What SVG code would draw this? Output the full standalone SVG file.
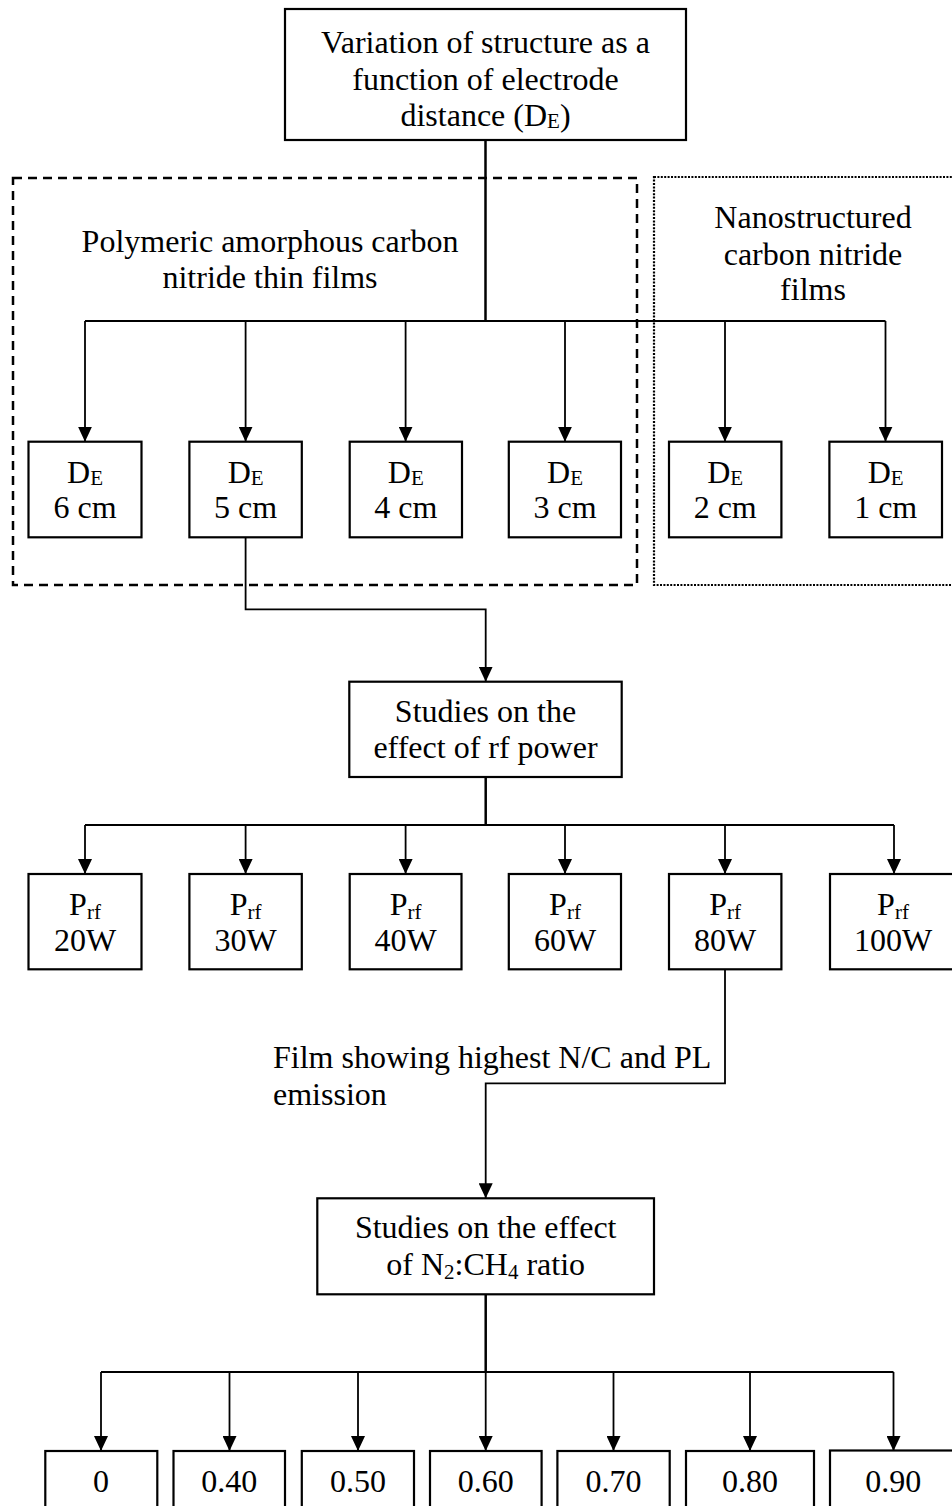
<svg xmlns="http://www.w3.org/2000/svg" width="952" height="1506" viewBox="0 0 952 1506">
<style>
text{font-family:"Liberation Serif","Times New Roman",serif;font-size:32px;fill:#000}
.c{text-anchor:middle}
.s{font-size:21px}
.box{fill:#fff;stroke:#000;stroke-width:2.2}
.ln{fill:none;stroke:#000;stroke-width:1.8}
.tr{fill:none;stroke:#000;stroke-width:2.5}
.dash{fill:none;stroke:#000;stroke-width:2.5;stroke-dasharray:9 6}
.dot{fill:none;stroke:#000;stroke-width:2.2;stroke-dasharray:2 1.4}
</style>
<defs>
<marker id="ah" markerUnits="userSpaceOnUse" markerWidth="15" markerHeight="14" refX="15" refY="7" orient="auto">
<path d="M0,0 L15,7 L0,14 z" fill="#000"/>
</marker>
</defs>
<rect width="952" height="1506" fill="#fff"/>

<g id="groups">
<rect class="dash" x="13" y="178" width="624" height="407"/>
<rect class="dot" x="654" y="177" width="310" height="408"/>
</g>

<g id="connectors">
<path class="tr" d="M485.5,140 V321"/>
<path class="ln" d="M85,321 H885.5"/>
<path class="ln" marker-end="url(#ah)" d="M85,321 V441.7"/>
<path class="ln" marker-end="url(#ah)" d="M245.6,321 V441.7"/>
<path class="ln" marker-end="url(#ah)" d="M405.6,321 V441.7"/>
<path class="ln" marker-end="url(#ah)" d="M565,321 V441.7"/>
<path class="ln" marker-end="url(#ah)" d="M725,321 V441.7"/>
<path class="ln" marker-end="url(#ah)" d="M885.5,321 V441.7"/>

<path class="ln" marker-end="url(#ah)" d="M245.6,537 V609.3 H485.7 V681.7"/>

<path class="tr" d="M485.7,777 V825"/>
<path class="ln" d="M85,825 H894"/>
<path class="ln" marker-end="url(#ah)" d="M85,825 V874"/>
<path class="ln" marker-end="url(#ah)" d="M245.6,825 V874"/>
<path class="ln" marker-end="url(#ah)" d="M405.6,825 V874"/>
<path class="ln" marker-end="url(#ah)" d="M565,825 V874"/>
<path class="ln" marker-end="url(#ah)" d="M725,825 V874"/>
<path class="ln" marker-end="url(#ah)" d="M894,825 V874"/>

<path class="ln" marker-end="url(#ah)" d="M725,969 V1083.3 H485.7 V1198.3"/>

<path class="tr" d="M485.7,1294 V1372"/>
<path class="ln" d="M101,1372 H893.5"/>
<path class="ln" marker-end="url(#ah)" d="M101,1372 V1451"/>
<path class="ln" marker-end="url(#ah)" d="M229.5,1372 V1451"/>
<path class="ln" marker-end="url(#ah)" d="M358,1372 V1451"/>
<path class="ln" marker-end="url(#ah)" d="M485.7,1372 V1451"/>
<path class="ln" marker-end="url(#ah)" d="M613.5,1372 V1451"/>
<path class="ln" marker-end="url(#ah)" d="M750,1372 V1451"/>
<path class="ln" marker-end="url(#ah)" d="M893.5,1372 V1451"/>
</g>

<g id="label-polymeric">
<text class="c" x="270" y="252">Polymeric amorphous carbon</text>
<text class="c" x="270" y="288">nitride thin films</text>
</g>
<g id="label-nano">
<text class="c" x="813" y="228">Nanostructured</text>
<text class="c" x="813" y="265">carbon nitride</text>
<text class="c" x="813" y="300">films</text>
</g>

<g id="n-top">
<rect class="box" x="285" y="9" width="401" height="131"/>
<text class="c" x="485.5" y="53">Variation of structure as a</text>
<text class="c" x="485.5" y="89.5">function of electrode</text>
<text class="c" x="485.5" y="126">distance (D<tspan class="s" dy="2">E</tspan><tspan dy="-2">)</tspan></text>
</g>

<g id="n-de6"><rect class="box" x="28.5" y="441.7" width="113" height="95.6"/><text class="c" x="85" y="483">D<tspan class="s" dy="2">E</tspan></text><text class="c" x="85" y="518">6 cm</text></g>
<g id="n-de5"><rect class="box" x="189.4" y="441.7" width="112.4" height="95.6"/><text class="c" x="245.6" y="483">D<tspan class="s" dy="2">E</tspan></text><text class="c" x="245.6" y="518">5 cm</text></g>
<g id="n-de4"><rect class="box" x="349.7" y="441.7" width="112.3" height="95.6"/><text class="c" x="405.8" y="483">D<tspan class="s" dy="2">E</tspan></text><text class="c" x="405.8" y="518">4 cm</text></g>
<g id="n-de3"><rect class="box" x="508.8" y="441.7" width="112.2" height="95.6"/><text class="c" x="565" y="483">D<tspan class="s" dy="2">E</tspan></text><text class="c" x="565" y="518">3 cm</text></g>
<g id="n-de2"><rect class="box" x="669" y="441.7" width="112.4" height="95.6"/><text class="c" x="725.2" y="483">D<tspan class="s" dy="2">E</tspan></text><text class="c" x="725.2" y="518">2 cm</text></g>
<g id="n-de1"><rect class="box" x="829.4" y="441.7" width="112.6" height="95.6"/><text class="c" x="885.7" y="483">D<tspan class="s" dy="2">E</tspan></text><text class="c" x="885.7" y="518">1 cm</text></g>

<g id="n-rf">
<rect class="box" x="349.3" y="681.7" width="272.4" height="95.3"/>
<text class="c" x="485.5" y="721.7">Studies on the</text>
<text class="c" x="485.5" y="758">effect of rf power</text>
</g>

<g id="n-p20"><rect class="box" x="28.5" y="874" width="113" height="95.3"/><text class="c" x="85" y="915">P<tspan class="s" dy="4">rf</tspan></text><text class="c" x="85" y="950.7">20W</text></g>
<g id="n-p30"><rect class="box" x="189.4" y="874" width="112.4" height="95.3"/><text class="c" x="245.6" y="915">P<tspan class="s" dy="4">rf</tspan></text><text class="c" x="245.6" y="950.7">30W</text></g>
<g id="n-p40"><rect class="box" x="349.7" y="874" width="111.8" height="95.3"/><text class="c" x="405.6" y="915">P<tspan class="s" dy="4">rf</tspan></text><text class="c" x="405.6" y="950.7">40W</text></g>
<g id="n-p60"><rect class="box" x="508.8" y="874" width="112.2" height="95.3"/><text class="c" x="565" y="915">P<tspan class="s" dy="4">rf</tspan></text><text class="c" x="565" y="950.7">60W</text></g>
<g id="n-p80"><rect class="box" x="669" y="874" width="112.4" height="95.3"/><text class="c" x="725.2" y="915">P<tspan class="s" dy="4">rf</tspan></text><text class="c" x="725.2" y="950.7">80W</text></g>
<g id="n-p100"><rect class="box" x="830" y="874" width="128" height="95.3"/><text class="c" x="893" y="915">P<tspan class="s" dy="4">rf</tspan></text><text class="c" x="893" y="950.7">100W</text></g>

<g id="label-film">
<text x="273" y="1068">Film showing highest N/C and PL</text>
<text x="273" y="1105">emission</text>
</g>

<g id="n-ratio">
<rect class="box" x="317.3" y="1198.3" width="336.7" height="96"/>
<text class="c" x="485.7" y="1238.3">Studies on the effect</text>
<text class="c" x="485.7" y="1275">of N<tspan class="s" dy="4">2</tspan><tspan dy="-4">:CH</tspan><tspan class="s" dy="4">4</tspan><tspan dy="-4"> ratio</tspan></text>
</g>

<g id="n-r0"><rect class="box" x="45.3" y="1451" width="112" height="70"/><text class="c" x="101" y="1491.5">0</text></g>
<g id="n-r40"><rect class="box" x="173.5" y="1451" width="111.5" height="70"/><text class="c" x="229.3" y="1491.5">0.40</text></g>
<g id="n-r50"><rect class="box" x="301.8" y="1451" width="112.2" height="70"/><text class="c" x="358" y="1491.5">0.50</text></g>
<g id="n-r60"><rect class="box" x="430" y="1451" width="111.6" height="70"/><text class="c" x="485.8" y="1491.5">0.60</text></g>
<g id="n-r70"><rect class="box" x="557.4" y="1451" width="112.3" height="70"/><text class="c" x="613.5" y="1491.5">0.70</text></g>
<g id="n-r80"><rect class="box" x="686" y="1451" width="128" height="70"/><text class="c" x="750" y="1491.5">0.80</text></g>
<g id="n-r90"><rect class="box" x="830" y="1450.5" width="130" height="70"/><text class="c" x="893.3" y="1491.5">0.90</text></g>
</svg>
